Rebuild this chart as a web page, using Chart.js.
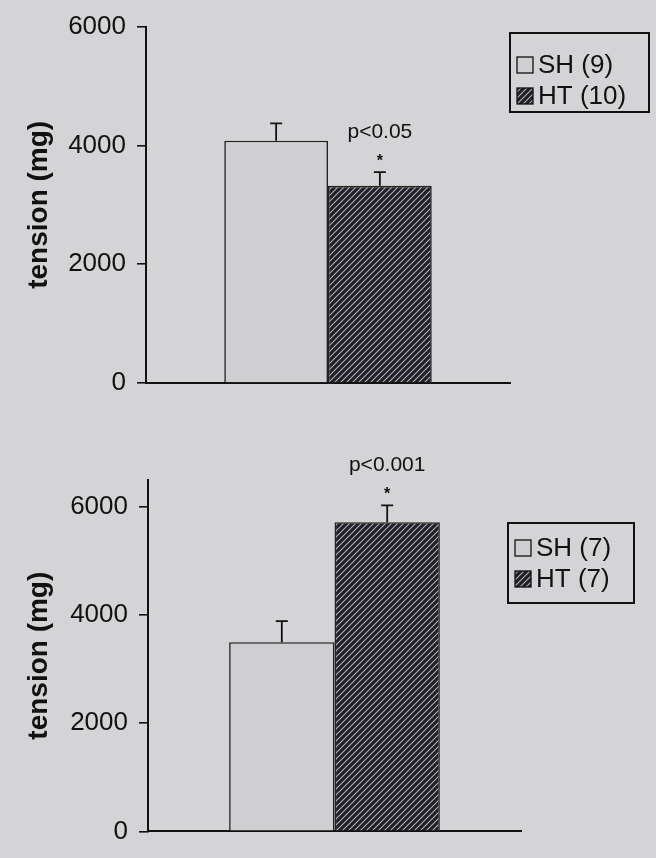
<!DOCTYPE html>
<html>
<head>
<meta charset="utf-8">
<script src="https://cdn.jsdelivr.net/npm/chart.js@4.4.1/dist/chart.umd.min.js"></script>
<style>
  html, body { margin: 0; padding: 0; background: #d4d4d6; }
  .panel { position: absolute; left: 0; width: 656px; }
</style>
</head>
<body>
<div class="panel" style="top:0;height:420px"><canvas id="topChart"></canvas></div>
<div class="panel" style="top:420px;height:438px"><canvas id="bottomChart"></canvas></div>
<script>
// data
const groups = ["SH", "HT"];
const topMeans = [4080, 3320];
const topErrors = [290, 230];
const topN = [9, 10];
const bottomMeans = [3500, 5720];
const bottomErrors = [390, 310];
const bottomN = [7, 7];
const yTicks = [0, 2000, 4000, 6000];

const FONT = "'Liberation Sans', Arial, sans-serif";
const INK = "#111111";

// diagonal hatch for the HT bars
function makeHatch() {
  const c = document.createElement("canvas");
  c.width = 6;
  c.height = 6;
  const g = c.getContext("2d");
  g.fillStyle = "#b4b4bb";
  g.fillRect(0, 0, 6, 6);
  g.strokeStyle = "#202026";
  g.lineWidth = 3.2;
  g.beginPath();
  g.moveTo(-1, 7); g.lineTo(7, -1);
  g.moveTo(-4, 4); g.lineTo(4, -4);
  g.moveTo(2, 10); g.lineTo(10, 2);
  g.stroke();
  return g.createPattern(c, "repeat");
}
const hatch = makeHatch();
const fills = ["#cfcfd1", hatch];

// error bars, significance marks and boxed legend
const decor = {
  id: "decor",
  afterDatasetsDraw(chart, args, opts) {
    const ctx = chart.ctx;
    const y = chart.scales.y;
    ctx.save();
    ctx.strokeStyle = INK;
    ctx.fillStyle = INK;
    chart.data.datasets.forEach((ds, i) => {
      const bar = chart.getDatasetMeta(i).data[0];
      const top = y.getPixelForValue(ds.data[0] + ds.err);
      ctx.lineWidth = 1.8;
      ctx.beginPath();
      ctx.moveTo(bar.x, bar.y);
      ctx.lineTo(bar.x, top);
      ctx.moveTo(bar.x - 6, top);
      ctx.lineTo(bar.x + 6, top);
      ctx.stroke();
      if (i === opts.sigIndex) {
        ctx.textAlign = "center";
        ctx.textBaseline = "middle";
        ctx.font = "bold 16px " + FONT;
        ctx.fillText("*", bar.x, top - 11);
        ctx.font = "21px " + FONT;
        ctx.fillText(opts.sigText, bar.x, top - 40);
      }
    });

    // legend
    const L = opts.legend;
    ctx.lineWidth = 2;
    ctx.strokeRect(L.x, L.y, L.w, L.h);
    ctx.font = "26px " + FONT;
    ctx.textAlign = "left";
    ctx.textBaseline = "middle";
    chart.data.datasets.forEach((ds, i) => {
      const cy = L.y + L.rowY[i];
      ctx.fillStyle = ds.backgroundColor;
      ctx.fillRect(L.x + 7, cy - 8, 16, 16);
      ctx.lineWidth = 1.3;
      ctx.strokeStyle = INK;
      ctx.strokeRect(L.x + 7, cy - 8, 16, 16);
      ctx.fillStyle = INK;
      ctx.fillText(ds.label, L.x + 28, cy + 1);
    });
    ctx.restore();
  }
};

function makeChart(id, means, errors, ns, cfg) {
  const datasets = groups.map((g, i) => ({
    label: g + " (" + ns[i] + ")",
    data: [means[i]],
    err: errors[i],
    backgroundColor: fills[i],
    borderColor: "#222222",
    borderWidth: 1.6,
    categoryPercentage: cfg.catPct,
    barPercentage: 1.0
  }));
  return new Chart(document.getElementById(id), {
    type: "bar",
    data: { labels: [""], datasets },
    plugins: [decor],
    options: {
      responsive: true,
      maintainAspectRatio: false,
      animation: false,
      layout: { padding: cfg.padding },
      plugins: {
        legend: { display: false },
        tooltip: { enabled: false },
        decor: { sigIndex: 1, sigText: cfg.sigText, legend: cfg.legend }
      },
      scales: {
        x: {
          afterFit: (a) => { a.height = 0; },
          ticks: { display: false },
          grid: { display: false },
          border: { color: INK, width: 2 }
        },
        y: {
          min: 0,
          max: cfg.max,
          afterBuildTicks: (a) => { a.ticks = yTicks.map((v) => ({ value: v })); },
          afterFit: (a) => { a.width = cfg.axisX; },
          grid: { drawOnChartArea: false, drawTicks: true, tickLength: 9, color: INK, lineWidth: 1.6 },
          border: { color: INK, width: 2 },
          ticks: {
            color: INK,
            padding: 11,
            font: { size: 26, family: FONT },
            callback: (v) => String(v)
          },
          title: {
            display: true,
            text: "tension (mg)",
            color: INK,
            padding: { top: 22, bottom: 0 },
            font: { size: 28, weight: "bold", family: FONT }
          }
        }
      }
    }
  });
}

makeChart("topChart", topMeans, topErrors, topN, {
  max: 6000,
  axisX: 146,
  catPct: 0.57,
  padding: { top: 20, bottom: 37, left: 0, right: 146 },
  sigText: "p<0.05",
  legend: { x: 510, y: 33, w: 139, h: 79, rowY: [32, 63] }
});

makeChart("bottomChart", bottomMeans, bottomErrors, bottomN, {
  max: 6500,
  axisX: 148,
  catPct: 0.565,
  padding: { top: 60, bottom: 11, left: 0, right: 135 },
  sigText: "p<0.001",
  legend: { x: 508, y: 103, w: 126, h: 80, rowY: [25, 56] }
});
</script>
</body>
</html>
